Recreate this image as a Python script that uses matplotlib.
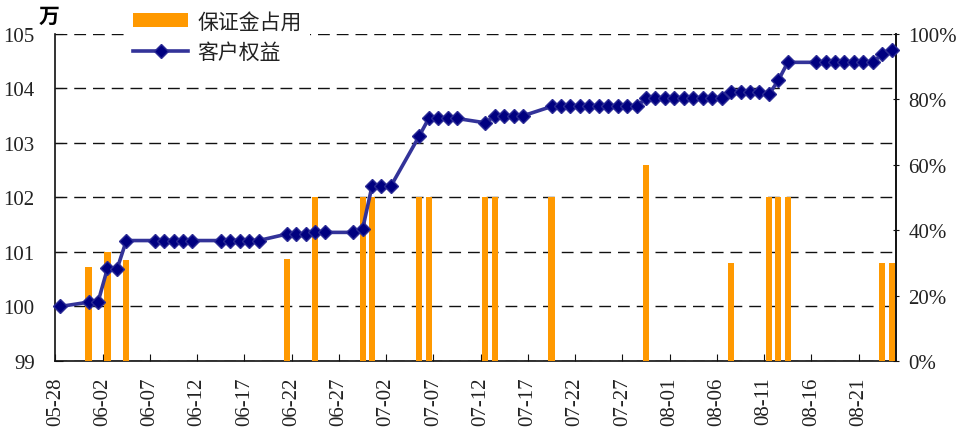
import matplotlib
matplotlib.use("Agg")
import matplotlib.pyplot as plt
import pandas as pd
from matplotlib.lines import Line2D
from matplotlib.patches import Patch

plt.rcParams['font.family'] = ['Liberation Serif', 'Noto Sans CJK SC', 'DejaVu Sans']

YEAR = 2010
start_date = "05-28"

# 客户权益 (万)
equity_dates = ["05-28", "05-31", "06-01", "06-02", "06-03", "06-04",
                "06-07", "06-08", "06-09", "06-10", "06-11",
                "06-14", "06-15", "06-16", "06-17", "06-18",
                "06-21", "06-22", "06-23", "06-24", "06-25",
                "06-28", "06-29", "06-30", "07-01", "07-02",
                "07-05", "07-06", "07-07", "07-08", "07-09",
                "07-12", "07-13", "07-14", "07-15", "07-16",
                "07-19", "07-20", "07-21", "07-22", "07-23", "07-24", "07-25",
                "07-26", "07-27", "07-28", "07-29", "07-30", "07-31",
                "08-01", "08-02", "08-03", "08-04", "08-05", "08-06",
                "08-07", "08-08", "08-09", "08-10", "08-11", "08-12", "08-13",
                "08-16", "08-17", "08-18", "08-19", "08-20", "08-21", "08-22",
                "08-23", "08-24"]
equity_values = [100.00, 100.08, 100.08, 100.70, 100.68, 101.21,
                 101.21, 101.21, 101.21, 101.21, 101.21,
                 101.21, 101.21, 101.21, 101.21, 101.21,
                 101.33, 101.33, 101.33, 101.36, 101.36,
                 101.36, 101.42, 102.21, 102.21, 102.21,
                 103.13, 103.45, 103.45, 103.45, 103.45,
                 103.37, 103.50, 103.50, 103.50, 103.50,
                 103.67, 103.67, 103.67, 103.67, 103.67, 103.67, 103.67,
                 103.67, 103.67, 103.67, 103.82, 103.82, 103.82,
                 103.82, 103.82, 103.82, 103.82, 103.82, 103.82,
                 103.94, 103.94, 103.94, 103.94, 103.89, 104.15, 104.48,
                 104.48, 104.48, 104.48, 104.48, 104.48, 104.48, 104.48,
                 104.63, 104.71]

# 保证金占用 (%)
margin_dates = ["05-31", "06-02", "06-04", "06-21", "06-24", "06-29", "06-30",
                "07-05", "07-06", "07-12", "07-13", "07-19", "07-29", "08-07",
                "08-11", "08-12", "08-13", "08-23", "08-24"]
margin_values = [28.6, 33.2, 30.9, 31.2, 50, 50, 50,
                 50, 50, 50, 50, 50, 60, 30,
                 50, 50, 50, 30, 30]

tick_labels = ["05-28", "06-02", "06-07", "06-12", "06-17", "06-22", "06-27",
               "07-02", "07-07", "07-12", "07-17", "07-22", "07-27",
               "08-01", "08-06", "08-11", "08-16", "08-21"]

left_ticks = [99, 100, 101, 102, 103, 104, 105]
right_ticks = [0, 20, 40, 60, 80, 100]

t0 = pd.Timestamp(f"{YEAR}-{start_date}")
def day_index(lst):
    return [(pd.Timestamp(f"{YEAR}-{s}") - t0).days + 0.5 for s in lst]

ex = day_index(equity_dates)
mx = day_index(margin_dates)
tx = [d - 0.5 for d in day_index(tick_labels)]

fig = plt.figure(figsize=(9.6, 4.39), dpi=100)
ax = fig.add_axes([0.0578, 0.1754, 0.8760, 0.7449])
ax2 = ax.twinx()
ax3 = ax.twinx()

tick_color = '#222222'
FS = 15

# left axis / gridlines
ax.set_xlim(0, 89)
ax.set_ylim(99, 105)
ax.set_yticks(left_ticks)
ax.set_yticklabels([str(v) for v in left_ticks], fontsize=FS, color=tick_color)
ax.yaxis.grid(True, linestyle=(0, (8.5, 5)), color='#111111', linewidth=1.0)
ax.set_axisbelow(True)
ax.set_xticks(tx)
ax.set_xticklabels(tick_labels, rotation=90, fontsize=FS, color=tick_color)
ax.tick_params(axis='x', direction='in', length=5, pad=11, color='#111111')
ax.tick_params(axis='y', direction='in', length=6, pad=15, color='#111111')
ax.spines['top'].set_visible(False)
for s in ['left', 'bottom', 'right']:
    ax.spines[s].set_color('#111111')
    ax.spines[s].set_linewidth(1.2)

# bars on right axis
ax2.bar(mx, margin_values, width=0.65, color='#FF9900', zorder=2)
ax2.set_ylim(0, 100)
ax2.set_yticks(right_ticks)
ax2.set_yticklabels([f"{v}%" for v in right_ticks], fontsize=FS, color=tick_color)
ax2.tick_params(axis='y', direction='inout', length=5, pad=6, color='#111111')
ax2.spines['top'].set_visible(False)
ax2.spines['right'].set_color('#111111')
ax2.spines['right'].set_linewidth(1.2)
ax2.spines['left'].set_visible(False)
ax2.spines['bottom'].set_visible(False)

# line on third axis sharing the left scale
ax3.set_ylim(99, 105)
ax3.set_yticks([])
for s in ax3.spines.values():
    s.set_visible(False)
ax3.plot(ex, equity_values, color='#333399', linewidth=2.6,
         marker='D', markersize=7.5, markerfacecolor='#000080',
         markeredgecolor='#2b2b95', markeredgewidth=1.0, clip_on=False)

fig.text(0.051, 0.962, '万', fontsize=FS, fontweight='bold', ha='center', va='center',
         family=['Noto Sans CJK SC'])

handles = [Patch(facecolor='#FF9900', edgecolor='none'),
           Line2D([], [], color='#333399', linewidth=2.6, marker='D', markersize=7.5,
                  markerfacecolor='#000080', markeredgecolor='#2b2b95')]
leg = fig.legend(handles, ['保证金占用', '客户权益'], loc='upper left',
                 bbox_to_anchor=(0.130, 0.993), frameon=True, fancybox=False,
                 framealpha=1.0, facecolor='white', edgecolor='none',
                 fontsize=FS, handlelength=2.65, handleheight=0.65,
                 handletextpad=0.43, labelspacing=0.4, borderpad=0.4,
                 borderaxespad=0)
for t in leg.get_texts():
    t.set_color('#222222')
    t.set_family(['Noto Sans CJK SC'])
leg.set_zorder(10)

fig.savefig('out.png', dpi=100)
